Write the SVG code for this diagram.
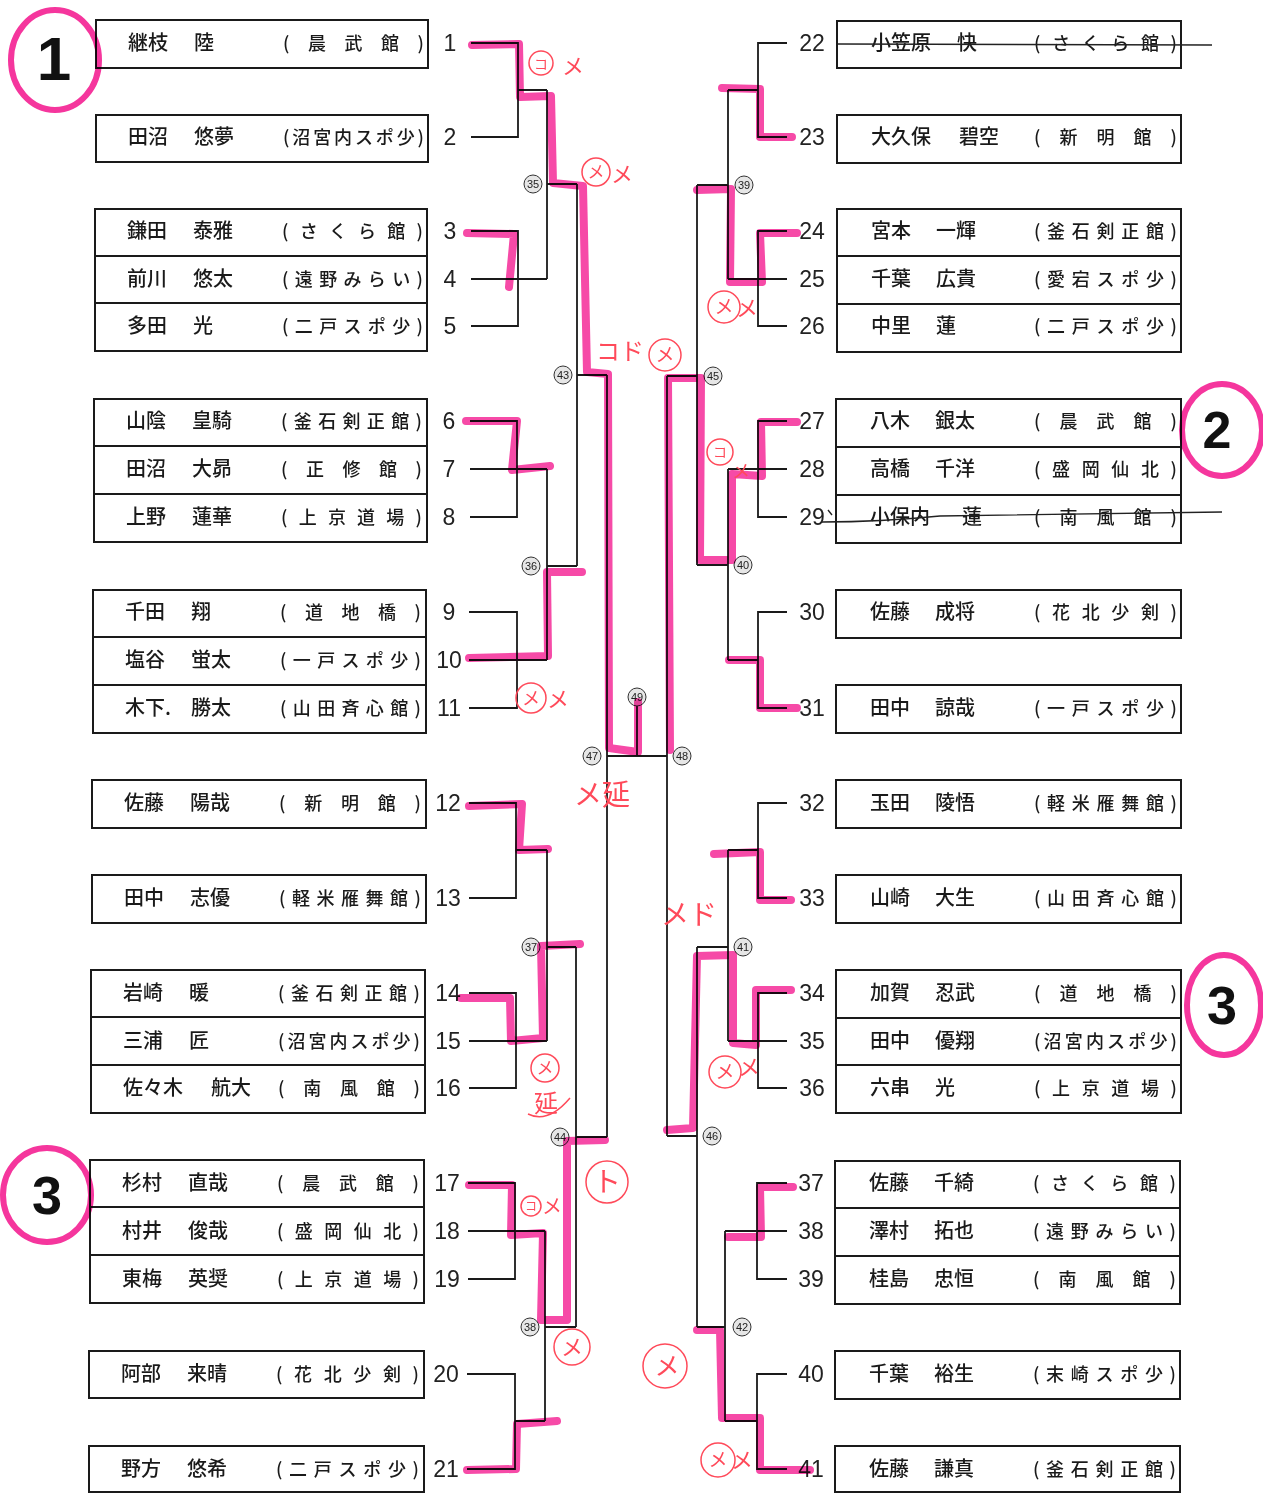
<svg xmlns="http://www.w3.org/2000/svg" width="1263" height="1494" viewBox="0 0 1263 1494">
<defs>
<style>
.bx{fill:none;stroke:#1a1a1a;stroke-width:2}
.ln{fill:none;stroke:#1a1a1a;stroke-width:1.8}
.nm{font-family:"Noto Sans CJK JP","Noto Sans CJK SC",sans-serif;font-size:20px;font-weight:500;fill:#1a1a1a}
.cl{font-family:"Noto Sans CJK JP","Noto Sans CJK SC",sans-serif;font-size:18px;font-weight:500;fill:#1a1a1a}
.no{font-family:"Liberation Sans",Arial,sans-serif;font-size:23px;fill:#222;text-anchor:middle}
.nd circle{fill:#e6e6e6;stroke:#333;stroke-width:1}
.nd text{font-family:"Liberation Sans",Arial,sans-serif;font-size:11px;fill:#222;text-anchor:middle}
.pk{fill:none;stroke:#f5369d;stroke-width:8;stroke-linecap:round;stroke-linejoin:round;mix-blend-mode:multiply;opacity:.9}
.pc{fill:none;stroke:#f5369d;stroke-width:6;mix-blend-mode:multiply}
.bn{font-family:"Liberation Sans",Arial,sans-serif;font-weight:bold;fill:#111;text-anchor:middle}
.rd{fill:none;stroke:#ff4a5a;stroke-width:1.5}
.rt{font-family:"Noto Sans CJK JP",sans-serif;fill:#ff4a5a;text-anchor:middle}
.st{fill:none;stroke:#222;stroke-width:1.4}
</style>
</defs>
<rect width="1263" height="1494" fill="#fff"/>

<!-- LEFT PLAYERS -->
<g id="box1"><rect class="bx" x="96" y="20" width="332" height="48"/>
<g id="p1"><text class="nm" x="128" y="50">継枝<tspan x="194">陸</tspan></text><text class="cl" x="283" y="50" textLength="141" lengthAdjust="spacing">(晨武館)</text><text class="no" x="450" y="51">1</text></g></g>
<g id="box2"><rect class="bx" x="96" y="115" width="332" height="47"/>
<g id="p2"><text class="nm" x="128" y="144">田沼<tspan x="194">悠夢</tspan></text><text class="cl" x="283" y="144" textLength="141" lengthAdjust="spacing">(沼宮内スポ少)</text><text class="no" x="450" y="145">2</text></g></g>
<g id="box3"><rect class="bx" x="95" y="209" width="332" height="142"/><path class="bx" d="M95,256H427M95,303H427"/>
<g id="p3"><text class="nm" x="127" y="238">鎌田<tspan x="193">泰雅</tspan></text><text class="cl" x="282" y="238" textLength="141" lengthAdjust="spacing">(さくら館)</text><text class="no" x="450" y="239">3</text></g>
<g id="p4"><text class="nm" x="127" y="286">前川<tspan x="193">悠太</tspan></text><text class="cl" x="282" y="286" textLength="141" lengthAdjust="spacing">(遠野みらい)</text><text class="no" x="450" y="287">4</text></g>
<g id="p5"><text class="nm" x="127" y="333">多田<tspan x="193">光</tspan></text><text class="cl" x="282" y="333" textLength="141" lengthAdjust="spacing">(二戸スポ少)</text><text class="no" x="450" y="334">5</text></g></g>
<g id="box6"><rect class="bx" x="94" y="399" width="333" height="143"/><path class="bx" d="M94,446H427M94,494H427"/>
<g id="p6"><text class="nm" x="126" y="428">山陰<tspan x="192">皇騎</tspan></text><text class="cl" x="281" y="428" textLength="141" lengthAdjust="spacing">(釜石剣正館)</text><text class="no" x="449" y="429">6</text></g>
<g id="p7"><text class="nm" x="126" y="476">田沼<tspan x="192">大昴</tspan></text><text class="cl" x="281" y="476" textLength="141" lengthAdjust="spacing">(正修館)</text><text class="no" x="449" y="477">7</text></g>
<g id="p8"><text class="nm" x="126" y="524">上野<tspan x="192">蓮華</tspan></text><text class="cl" x="281" y="524" textLength="141" lengthAdjust="spacing">(上京道場)</text><text class="no" x="449" y="525">8</text></g></g>
<g id="box9"><rect class="bx" x="93" y="590" width="333" height="143"/><path class="bx" d="M93,637H426M93,685H426"/>
<g id="p9"><text class="nm" x="125" y="619">千田<tspan x="191">翔</tspan></text><text class="cl" x="280" y="619" textLength="141" lengthAdjust="spacing">(道地橋)</text><text class="no" x="449" y="620">9</text></g>
<g id="p10"><text class="nm" x="125" y="667">塩谷<tspan x="191">蛍太</tspan></text><text class="cl" x="280" y="667" textLength="141" lengthAdjust="spacing">(一戸スポ少)</text><text class="no" x="449" y="668">10</text></g>
<g id="p11"><text class="nm" x="125" y="715">木下.<tspan x="191">勝太</tspan></text><text class="cl" x="280" y="715" textLength="141" lengthAdjust="spacing">(山田斉心館)</text><text class="no" x="449" y="716">11</text></g></g>
<g id="box12"><rect class="bx" x="92" y="780" width="334" height="48"/>
<g id="p12"><text class="nm" x="124" y="810">佐藤<tspan x="190">陽哉</tspan></text><text class="cl" x="279" y="810" textLength="142" lengthAdjust="spacing">(新明館)</text><text class="no" x="448" y="811">12</text></g></g>
<g id="box13"><rect class="bx" x="92" y="875" width="334" height="48"/>
<g id="p13"><text class="nm" x="124" y="905">田中<tspan x="190">志優</tspan></text><text class="cl" x="279" y="905" textLength="142" lengthAdjust="spacing">(軽米雁舞館)</text><text class="no" x="448" y="906">13</text></g></g>
<g id="box14"><rect class="bx" x="91" y="970" width="334" height="143"/><path class="bx" d="M91,1017H425M91,1065H425"/>
<g id="p14"><text class="nm" x="123" y="1000">岩崎<tspan x="189">暖</tspan></text><text class="cl" x="278" y="1000" textLength="142" lengthAdjust="spacing">(釜石剣正館)</text><text class="no" x="448" y="1001">14</text></g>
<g id="p15"><text class="nm" x="123" y="1048">三浦<tspan x="189">匠</tspan></text><text class="cl" x="278" y="1048" textLength="142" lengthAdjust="spacing">(沼宮内スポ少)</text><text class="no" x="448" y="1049">15</text></g>
<g id="p16"><text class="nm" x="123" y="1095">佐々木<tspan x="211">航大</tspan></text><text class="cl" x="278" y="1095" textLength="142" lengthAdjust="spacing">(南風館)</text><text class="no" x="448" y="1096">16</text></g></g>
<g id="box17"><rect class="bx" x="90" y="1160" width="334" height="143"/><path class="bx" d="M90,1207H424M90,1255H424"/>
<g id="p17"><text class="nm" x="122" y="1190">杉村<tspan x="188">直哉</tspan></text><text class="cl" x="277" y="1190" textLength="142" lengthAdjust="spacing">(晨武館)</text><text class="no" x="447" y="1191">17</text></g>
<g id="p18"><text class="nm" x="122" y="1238">村井<tspan x="188">俊哉</tspan></text><text class="cl" x="277" y="1238" textLength="142" lengthAdjust="spacing">(盛岡仙北)</text><text class="no" x="447" y="1239">18</text></g>
<g id="p19"><text class="nm" x="122" y="1286">東梅<tspan x="188">英奨</tspan></text><text class="cl" x="277" y="1286" textLength="142" lengthAdjust="spacing">(上京道場)</text><text class="no" x="447" y="1287">19</text></g></g>
<g id="box20"><rect class="bx" x="89" y="1351" width="335" height="47"/>
<g id="p20"><text class="nm" x="121" y="1381">阿部<tspan x="187">来晴</tspan></text><text class="cl" x="276" y="1381" textLength="143" lengthAdjust="spacing">(花北少剣)</text><text class="no" x="446" y="1382">20</text></g></g>
<g id="box21"><rect class="bx" x="89" y="1446" width="335" height="46"/>
<g id="p21"><text class="nm" x="121" y="1476">野方<tspan x="187">悠希</tspan></text><text class="cl" x="276" y="1476" textLength="143" lengthAdjust="spacing">(二戸スポ少)</text><text class="no" x="446" y="1477">21</text></g></g>

<!-- RIGHT PLAYERS -->
<g id="box22"><rect class="bx" x="837" y="21" width="344" height="47"/>
<g id="p22"><text class="nm" x="871" y="50">小笠原<tspan x="957">快</tspan></text><text class="cl" x="1034" y="50" textLength="143" lengthAdjust="spacing">(さくら館)</text><text class="no" x="812" y="51">22</text></g></g>
<g id="box23"><rect class="bx" x="837" y="115" width="344" height="48"/>
<g id="p23"><text class="nm" x="871" y="144">大久保<tspan x="959">碧空</tspan></text><text class="cl" x="1034" y="144" textLength="143" lengthAdjust="spacing">(新明館)</text><text class="no" x="812" y="145">23</text></g></g>
<g id="box24"><rect class="bx" x="837" y="209" width="344" height="143"/><path class="bx" d="M837,256H1181M837,304H1181"/>
<g id="p24"><text class="nm" x="871" y="238">宮本<tspan x="936">一輝</tspan></text><text class="cl" x="1034" y="238" textLength="143" lengthAdjust="spacing">(釜石剣正館)</text><text class="no" x="812" y="239">24</text></g>
<g id="p25"><text class="nm" x="871" y="286">千葉<tspan x="936">広貴</tspan></text><text class="cl" x="1034" y="286" textLength="143" lengthAdjust="spacing">(愛宕スポ少)</text><text class="no" x="812" y="287">25</text></g>
<g id="p26"><text class="nm" x="871" y="333">中里<tspan x="936">蓮</tspan></text><text class="cl" x="1034" y="333" textLength="143" lengthAdjust="spacing">(二戸スポ少)</text><text class="no" x="812" y="334">26</text></g></g>
<g id="box27"><rect class="bx" x="836" y="399" width="345" height="144"/><path class="bx" d="M836,447H1181M836,495H1181"/>
<g id="p27"><text class="nm" x="870" y="428">八木<tspan x="935">銀太</tspan></text><text class="cl" x="1034" y="428" textLength="143" lengthAdjust="spacing">(晨武館)</text><text class="no" x="812" y="429">27</text></g>
<g id="p28"><text class="nm" x="870" y="476">高橋<tspan x="935">千洋</tspan></text><text class="cl" x="1034" y="476" textLength="143" lengthAdjust="spacing">(盛岡仙北)</text><text class="no" x="812" y="477">28</text></g>
<g id="p29"><text class="nm" x="870" y="524">小保内<tspan x="962">蓮</tspan></text><text class="cl" x="1034" y="524" textLength="143" lengthAdjust="spacing">(南風館)</text><text class="no" x="812" y="525">29</text></g></g>
<g id="box30"><rect class="bx" x="836" y="590" width="345" height="48"/>
<g id="p30"><text class="nm" x="870" y="619">佐藤<tspan x="935">成将</tspan></text><text class="cl" x="1034" y="619" textLength="143" lengthAdjust="spacing">(花北少剣)</text><text class="no" x="812" y="620">30</text></g></g>
<g id="box31"><rect class="bx" x="836" y="685" width="345" height="48"/>
<g id="p31"><text class="nm" x="870" y="715">田中<tspan x="935">諒哉</tspan></text><text class="cl" x="1034" y="715" textLength="143" lengthAdjust="spacing">(一戸スポ少)</text><text class="no" x="812" y="716">31</text></g></g>
<g id="box32"><rect class="bx" x="836" y="780" width="345" height="48"/>
<g id="p32"><text class="nm" x="870" y="810">玉田<tspan x="935">陵悟</tspan></text><text class="cl" x="1034" y="810" textLength="143" lengthAdjust="spacing">(軽米雁舞館)</text><text class="no" x="812" y="811">32</text></g></g>
<g id="box33"><rect class="bx" x="836" y="875" width="345" height="48"/>
<g id="p33"><text class="nm" x="870" y="905">山崎<tspan x="935">大生</tspan></text><text class="cl" x="1034" y="905" textLength="143" lengthAdjust="spacing">(山田斉心館)</text><text class="no" x="812" y="906">33</text></g></g>
<g id="box34"><rect class="bx" x="836" y="970" width="345" height="143"/><path class="bx" d="M836,1018H1181M836,1065H1181"/>
<g id="p34"><text class="nm" x="870" y="1000">加賀<tspan x="935">忍武</tspan></text><text class="cl" x="1034" y="1000" textLength="143" lengthAdjust="spacing">(道地橋)</text><text class="no" x="812" y="1001">34</text></g>
<g id="p35"><text class="nm" x="870" y="1048">田中<tspan x="935">優翔</tspan></text><text class="cl" x="1034" y="1048" textLength="143" lengthAdjust="spacing">(沼宮内スポ少)</text><text class="no" x="812" y="1049">35</text></g>
<g id="p36"><text class="nm" x="870" y="1095">六串<tspan x="935">光</tspan></text><text class="cl" x="1034" y="1095" textLength="143" lengthAdjust="spacing">(上京道場)</text><text class="no" x="812" y="1096">36</text></g></g>
<g id="box37"><rect class="bx" x="835" y="1161" width="345" height="143"/><path class="bx" d="M835,1208H1180M835,1256H1180"/>
<g id="p37"><text class="nm" x="869" y="1190">佐藤<tspan x="934">千綺</tspan></text><text class="cl" x="1033" y="1190" textLength="143" lengthAdjust="spacing">(さくら館)</text><text class="no" x="811" y="1191">37</text></g>
<g id="p38"><text class="nm" x="869" y="1238">澤村<tspan x="934">拓也</tspan></text><text class="cl" x="1033" y="1238" textLength="143" lengthAdjust="spacing">(遠野みらい)</text><text class="no" x="811" y="1239">38</text></g>
<g id="p39"><text class="nm" x="869" y="1286">桂島<tspan x="934">忠恒</tspan></text><text class="cl" x="1033" y="1286" textLength="143" lengthAdjust="spacing">(南風館)</text><text class="no" x="811" y="1287">39</text></g></g>
<g id="box40"><rect class="bx" x="835" y="1351" width="345" height="48"/>
<g id="p40"><text class="nm" x="869" y="1381">千葉<tspan x="934">裕生</tspan></text><text class="cl" x="1033" y="1381" textLength="143" lengthAdjust="spacing">(末崎スポ少)</text><text class="no" x="811" y="1382">40</text></g></g>
<g id="box41"><rect class="bx" x="835" y="1446" width="345" height="46"/>
<g id="p41"><text class="nm" x="869" y="1476">佐藤<tspan x="934">謙真</tspan></text><text class="cl" x="1033" y="1476" textLength="143" lengthAdjust="spacing">(釜石剣正館)</text><text class="no" x="811" y="1477">41</text></g></g>

<!-- CONNECTORS -->
<g id="connectors" class="ln">
<path d="M471,43H518V137H471M518,90H547"/>
<path d="M471,231H518V326H471M471,279H547"/>
<path d="M547,90V279M547,184H577"/>
<path d="M470,421H517V517H470M470,469H547"/>
<path d="M469,612H517V708H469M469,660H547"/>
<path d="M547,469V660M547,566H577"/>
<path d="M577,184V566M577,375H607"/>
<path d="M469,803H516V898H469M516,850H547"/>
<path d="M469,993H516V1088H469M469,1041H547"/>
<path d="M547,850V1041M547,947H576"/>
<path d="M468,1183H515V1279H468M468,1231H545"/>
<path d="M467,1374H515V1469H467M515,1421H545"/>
<path d="M545,1231V1421M545,1327H576"/>
<path d="M576,947V1327M576,1137H607"/>
<path d="M607,375V1137M607,756H667M637,756V706"/>
<path d="M787,43H758V137H787M758,90H728"/>
<path d="M787,231H758V326H787M787,279H728"/>
<path d="M728,90V279M728,185H697"/>
<path d="M787,421H758V517H787M787,469H728"/>
<path d="M787,612H758V708H787M758,660H728"/>
<path d="M728,469V660M728,565H697"/>
<path d="M697,185V565M697,376H667"/>
<path d="M787,803H758V898H787M758,850H728"/>
<path d="M787,993H758V1088H787M787,1041H728"/>
<path d="M728,850V1041M728,947H697"/>
<path d="M787,1183H757V1279H787M787,1231H725"/>
<path d="M787,1374H757V1469H787M757,1421H725"/>
<path d="M725,1231V1421M725,1327H697"/>
<path d="M697,947V1327M697,1136H667"/>
<path d="M667,376V1136"/>
</g>

<!-- MATCH NODES -->
<g id="m35" class="nd"><circle cx="533" cy="184" r="9"/><text x="533" y="188">35</text></g>
<g id="m36" class="nd"><circle cx="531" cy="566" r="9"/><text x="531" y="570">36</text></g>
<g id="m37" class="nd"><circle cx="531" cy="947" r="9"/><text x="531" y="951">37</text></g>
<g id="m38" class="nd"><circle cx="530" cy="1327" r="9"/><text x="530" y="1331">38</text></g>
<g id="m43" class="nd"><circle cx="563" cy="375" r="9"/><text x="563" y="379">43</text></g>
<g id="m44" class="nd"><circle cx="560" cy="1137" r="9"/><text x="560" y="1141">44</text></g>
<g id="m47" class="nd"><circle cx="592" cy="756" r="9"/><text x="592" y="760">47</text></g>
<g id="m49" class="nd"><circle cx="637" cy="697" r="9"/><text x="637" y="701">49</text></g>
<g id="m48" class="nd"><circle cx="682" cy="756" r="9"/><text x="682" y="760">48</text></g>
<g id="m45" class="nd"><circle cx="713" cy="376" r="9"/><text x="713" y="380">45</text></g>
<g id="m46" class="nd"><circle cx="712" cy="1136" r="9"/><text x="712" y="1140">46</text></g>
<g id="m39" class="nd"><circle cx="744" cy="185" r="9"/><text x="744" y="189">39</text></g>
<g id="m40" class="nd"><circle cx="743" cy="565" r="9"/><text x="743" y="569">40</text></g>
<g id="m41" class="nd"><circle cx="743" cy="947" r="9"/><text x="743" y="951">41</text></g>
<g id="m42" class="nd"><circle cx="742" cy="1327" r="9"/><text x="742" y="1331">42</text></g>

<!-- STRIKE-THROUGHS -->
<g id="strikes" class="st">
<path d="M838,44L1212,45"/>
<path d="M822,522Q880,522 940,516L1222,512M828,510L832,515"/>
</g>

<!-- PINK HIGHLIGHTS -->
<g id="highlights">
<path class="pk" d="M472,45L519,44L520,97L551,96L553,183L583,186L587,372L608,374L609,748L638,752L638,702"/>
<path class="pk" d="M467,233L514,234L509,287"/>
<path class="pk" d="M466,421L517,421L512,470L550,466"/>
<path class="pk" d="M469,658L548,656L547,572L582,572"/>
<path class="pk" d="M469,806L522,804L519,850L548,849"/>
<path class="pk" d="M461,998L510,998L511,1041L543,1038L541,946L580,944"/>
<path class="pk" d="M469,1185L512,1185L511,1235L543,1233L541,1320L567,1320L567,1141L605,1140"/>
<path class="pk" d="M467,1470L516,1469L517,1424L557,1421"/>
<path class="pk" d="M792,137L760,137L760,89L722,88"/>
<path class="pk" d="M797,233L760,233L762,282L730,282L731,189L697,190"/>
<path class="pk" d="M797,422L761,422L762,476L732,474L732,560L700,560L701,378L668,378L670,750"/>
<path class="pk" d="M797,708L760,708L760,660L729,660"/>
<path class="pk" d="M791,900L760,900L760,852L714,854"/>
<path class="pk" d="M791,990L756,990L756,1045L733,1043L733,955L697,956L693,1128L667,1130"/>
<path class="pk" d="M793,1187L760,1187L761,1237L728,1237"/>
<path class="pk" d="M810,1470L760,1470L760,1418L722,1418L720,1330L697,1330"/>
<ellipse class="pc" cx="55" cy="60" rx="44" ry="50"/>
<ellipse class="pc" cx="1222" cy="430" rx="40" ry="46"/>
<ellipse class="pc" cx="1224" cy="1005" rx="37" ry="50"/>
<ellipse class="pc" cx="47" cy="1195" rx="44" ry="47"/>
</g>
<g id="group-marks">
<text class="bn" x="54" y="80" font-size="62">1</text>
<text class="bn" x="1217" y="448" font-size="52">2</text>
<text class="bn" x="1222" y="1024" font-size="54">3</text>
<text class="bn" x="47" y="1214" font-size="54">3</text>
</g>

<!-- RED ANNOTATIONS -->
<g id="annotations">
<circle class="rd" cx="541" cy="63" r="12"/><text class="rt" x="541" y="69" font-size="14">コ</text><text class="rt" x="573" y="74" font-size="22">メ</text>
<circle class="rd" cx="596" cy="172" r="14"/><text class="rt" x="596" y="178" font-size="17">メ</text><text class="rt" x="622" y="182" font-size="22">メ</text>
<text class="rt" x="620" y="360" font-size="24">コド</text>
<circle class="rd" cx="665" cy="355" r="16"/><text class="rt" x="665" y="362" font-size="19">メ</text>
<circle class="rd" cx="724" cy="307" r="16"/><text class="rt" x="724" y="314" font-size="19">メ</text><text class="rt" x="747" y="316" font-size="22">メ</text>
<circle class="rd" cx="720" cy="452" r="13"/><text class="rt" x="720" y="457" font-size="14">コ</text><text class="rt" x="741" y="478" font-size="18">メ</text>
<circle class="rd" cx="531" cy="698" r="15"/><text class="rt" x="531" y="705" font-size="18">メ</text><text class="rt" x="558" y="707" font-size="22">メ</text>
<text class="rt" x="602" y="805" font-size="28">メ延</text>
<text class="rt" x="689" y="925" font-size="28">メド</text>
<circle class="rd" cx="545" cy="1068" r="14"/><text class="rt" x="545" y="1074" font-size="17">メ</text><text class="rt" x="546" y="1112" font-size="24">延</text><path class="rd" d="M528,1114Q548,1124 570,1098"/>
<circle class="rd" cx="607" cy="1182" r="21"/><text class="rt" x="607" y="1192" font-size="28">ト</text>
<circle class="rd" cx="531" cy="1206" r="10"/><text class="rt" x="531" y="1211" font-size="12">コ</text><text class="rt" x="552" y="1214" font-size="20">メ</text>
<circle class="rd" cx="572" cy="1347" r="18"/><text class="rt" x="572" y="1355" font-size="22">メ</text>
<circle class="rd" cx="665" cy="1366" r="22"/><text class="rt" x="667" y="1375" font-size="25">メ</text>
<circle class="rd" cx="725" cy="1072" r="16"/><text class="rt" x="725" y="1079" font-size="19">メ</text><text class="rt" x="749" y="1075" font-size="22">メ</text>
<circle class="rd" cx="718" cy="1460" r="17"/><text class="rt" x="718" y="1467" font-size="19">メ</text><text class="rt" x="742" y="1468" font-size="22">メ</text>
</g>
</svg>
